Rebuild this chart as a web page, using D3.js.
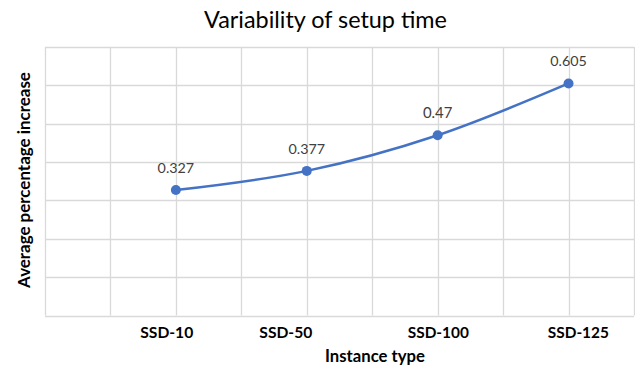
<!DOCTYPE html>
<html><head><meta charset="utf-8">
<script src="https://cdn.jsdelivr.net/npm/d3@7"></script>
<style>html,body{margin:0;padding:0;background:#fff;}</style>
</head><body>
<svg id="c" width="635" height="367"></svg>
<script>
const categories = ["SSD-10", "SSD-50", "SSD-100", "SSD-125"];
const values = [0.327, 0.377, 0.47, 0.605];
const labels = ["0.327", "0.377", "0.47", "0.605"];
// category positions on the underlying x value axis (0..9)
const catPos = [2, 4, 6, 8];
// where each category label is centred on that same axis
const labelPos = [1.86, 3.68, 6.01, 8.15];
const xGrid = [0,1,2,3,4,5,6,7,8,9];
const yGrid = [0,0.1,0.2,0.3,0.4,0.5,0.6,0.7];
const title = "Variability of setup time";
const xTitle = "Instance type";
const yTitle = "Average percentage increase";

const svg = d3.select("#c");
const x = d3.scaleLinear().domain([0, 9]).range([45, 634]);
const y = d3.scaleLinear().domain([0, 0.7]).range([315.5, 47]);
const grid = "#d9d9d9";
const font = "Lato, 'Open Sans', sans-serif";

function fit(sel, w) {
  sel.attr("font-size", 100);
  const m = sel.node().getComputedTextLength();
  sel.attr("font-size", 100 * w / m);
}

const g = svg.append("g");
g.selectAll("line.h").data(yGrid).join("line")
  .attr("x1", x(0)).attr("x2", x(9))
  .attr("y1", d => Math.round(y(d)) + 0.5).attr("y2", d => Math.round(y(d)) + 0.5)
  .attr("stroke", grid).attr("stroke-width", 1.3);
g.selectAll("line.v").data(xGrid).join("line")
  .attr("y1", y(0.7)).attr("y2", y(0))
  .attr("x1", d => Math.round(x(d)) + 0.5).attr("x2", d => Math.round(x(d)) + 0.5)
  .attr("stroke", grid).attr("stroke-width", 1.3);

const pts = categories.map((c, i) => ({c, v: values[i], p: catPos[i], l: labels[i]}));
const line = d3.line().x(d => x(d.p)).y(d => y(d.v)).curve(d3.curveCatmullRom.alpha(0));
svg.append("path").datum(pts).attr("d", line)
  .attr("fill", "none").attr("stroke", "#4472C4").attr("stroke-width", 2.5);
svg.selectAll("circle.pt").data(pts).join("circle")
  .attr("cx", d => x(d.p)).attr("cy", d => y(d.v)).attr("r", 5)
  .attr("fill", "#4472C4");

svg.selectAll("text.dl").data(pts).join("text")
  .attr("x", d => x(d.p)).attr("y", d => y(d.v) - 17)
  .attr("text-anchor", "middle").attr("font-family", font)
  .attr("fill", "#404040").text(d => d.l)
  .each(function(d){ fit(d3.select(this), d.l.length === 4 ? 29.5 : 36.6); });

svg.selectAll("text.tl").data(categories).join("text")
  .attr("x", (d, i) => x(labelPos[i])).attr("y", 338)
  .attr("text-anchor", "middle").attr("font-family", font).attr("font-weight", "bold")
  .attr("fill", "#000").text(d => d)
  .each(function(d){ fit(d3.select(this), d.length === 6 ? 53 : 61); });

fit(svg.append("text").attr("x", 325.5).attr("y", 28).attr("text-anchor", "middle")
  .attr("font-family", font).attr("fill", "#000").text(title), 243);

fit(svg.append("text").attr("x", 375).attr("y", 362).attr("text-anchor", "middle")
  .attr("font-family", font).attr("font-weight", "bold").attr("fill", "#000").text(xTitle), 100);

fit(svg.append("text").attr("transform", "translate(30,180) rotate(-90)")
  .attr("text-anchor", "middle").attr("font-family", font).attr("font-weight", "bold")
  .attr("fill", "#000").text(yTitle), 216);
</script>
</body></html>
